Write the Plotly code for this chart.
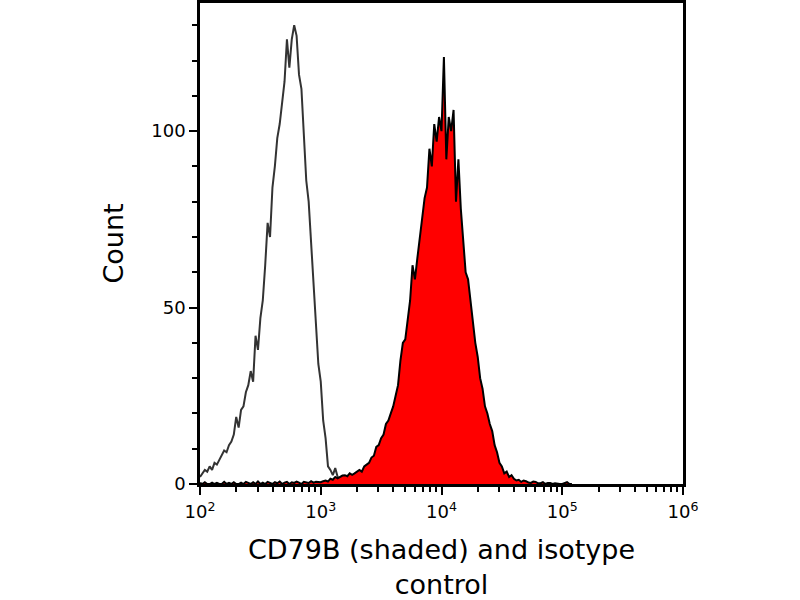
import numpy as np
import plotly.graph_objects as go

# histogram bins, log10 of fluorescence intensity (0.02 decade wide)
bins_log = np.round(np.arange(2.0, 5.3, 0.02), 2)

# isotype control counts, starting at 10^2
isotype_counts = [2, 3, 4, 3.5, 5, 4, 6, 5.5, 7, 8,
                  9.5, 9, 11, 12, 14, 19, 16, 21, 22, 26,
                  28, 32, 29, 42, 38, 47, 52, 62, 74, 70,
                  84, 90, 98, 102, 108, 114, 126, 118, 126, 130,
                  127, 116, 112, 100, 86, 80, 69, 57, 46, 34,
                  29, 18, 13, 5, 4, 2.5, 4.5, 2, 1.5, 1,
                  0.8, 0.4, 0.6, 0.2, 0.5, 0.3, 0, 0.4, 0.2, 0,
                  0.3, 0, 0.2, 0, 0.1, 0]

# CD79B stained counts, starting at 10^2
cd79b_counts = [0.3, 0, 0.5, 0, 0, 0.4, 0, 0.3, 0, 0,
                0.6, 0, 0.3, 0, 0.5, 0, 0, 0.4, 0, 0.6,
                0.3, 0, 0.5, 0, 0.7, 0, 0.4, 0, 0.6, 0.3,
                0, 0.5, 0.2, 0.7, 0, 0.4, 0.6, 0, 0.5, 0.3,
                0.7, 0.4, 0, 0.6, 0.5, 0.3, 0.8, 0.4, 0.6, 0.5,
                0.5, 0.8, 1, 0.7, 1.5, 1.2, 2, 1.6, 2, 2.4,
                2.5, 2.2, 3, 2.6, 3, 3.6, 4, 3.5, 5, 5.5,
                6, 7.5, 8, 10.5, 11, 13, 14, 17, 18, 20,
                22, 25, 28, 35, 40, 41, 46, 52, 62, 58,
                64, 70, 75, 81, 84, 95, 90, 102, 97, 104,
                100, 121, 92, 104, 100, 106, 80, 92, 78, 70,
                60, 58, 52, 47, 40, 36, 30, 27, 22, 20,
                17, 15, 11, 9, 6, 5, 3, 3.5, 2, 2.5,
                1.5, 1, 1.2, 0.6, 1, 0.8, 0.4, 0.3, 0.7, 0.6,
                0.2, 0.2, 0.5, 0, 0.3, 0.3, 0, 0.2, 0, 0,
                0, 0.2, 0.5, 0, 0]

iso_x = 10 ** bins_log[:len(isotype_counts)]
cd_x = 10 ** bins_log[:len(cd79b_counts)]

major_x = [1e2, 1e3, 1e4, 1e5, 1e6]
major_x_text = ["10<sup>2</sup>", "10<sup>3</sup>", "10<sup>4</sup>",
                "10<sup>5</sup>", "10<sup>6</sup>"]
minor_x = [m * 10 ** d for d in range(2, 6) for m in range(2, 10)]

fig = go.Figure()
fig.add_trace(go.Scatter(x=iso_x, y=isotype_counts, mode="lines",
                         line=dict(color="#333333", width=2),
                         name="isotype control"))
fig.add_trace(go.Scatter(x=cd_x, y=cd79b_counts, mode="lines", fill="tozeroy",
                         fillcolor="#ff0000",
                         line=dict(color="black", width=2),
                         name="CD79B"))

fig.update_layout(
    width=800, height=600,
    paper_bgcolor="white", plot_bgcolor="white",
    showlegend=False,
    margin=dict(l=200, r=117, t=3, b=116),
    font=dict(family="DejaVu Sans", color="black"),
)
fig.update_xaxes(type="log", range=[2, 6], automargin=False,
                 tickvals=major_x, ticktext=major_x_text,
                 ticks="outside", ticklen=8, tickwidth=2, tickcolor="black",
                 minor=dict(tickvals=minor_x, ticks="outside", ticklen=5,
                            tickwidth=2, tickcolor="black"),
                 tickfont=dict(size=18), ticklabelstandoff=2,
                 showline=True, linecolor="black", linewidth=2.5, mirror=True,
                 showgrid=False, zeroline=False,
                 title=dict(text="CD79B (shaded) and isotype<br>control",
                            font=dict(size=27), standoff=25))
fig.update_yaxes(range=[0, 136.3], automargin=False,
                 tickvals=[0, 50, 100],
                 ticks="outside", ticklen=8, tickwidth=2, tickcolor="black",
                 minor=dict(dtick=10, ticks="outside", ticklen=5,
                            tickwidth=2, tickcolor="black"),
                 tickfont=dict(size=18),
                 showline=True, linecolor="black", linewidth=2.5, mirror=True,
                 showgrid=False, zeroline=False,
                 title=dict(text="Count", font=dict(size=27), standoff=20))

# the page body has a default margin; drop it so the figure sits at the corner
fig.write_html("out.html", config={"displayModeBar": False},
               post_script="document.body.style.margin='0';")
